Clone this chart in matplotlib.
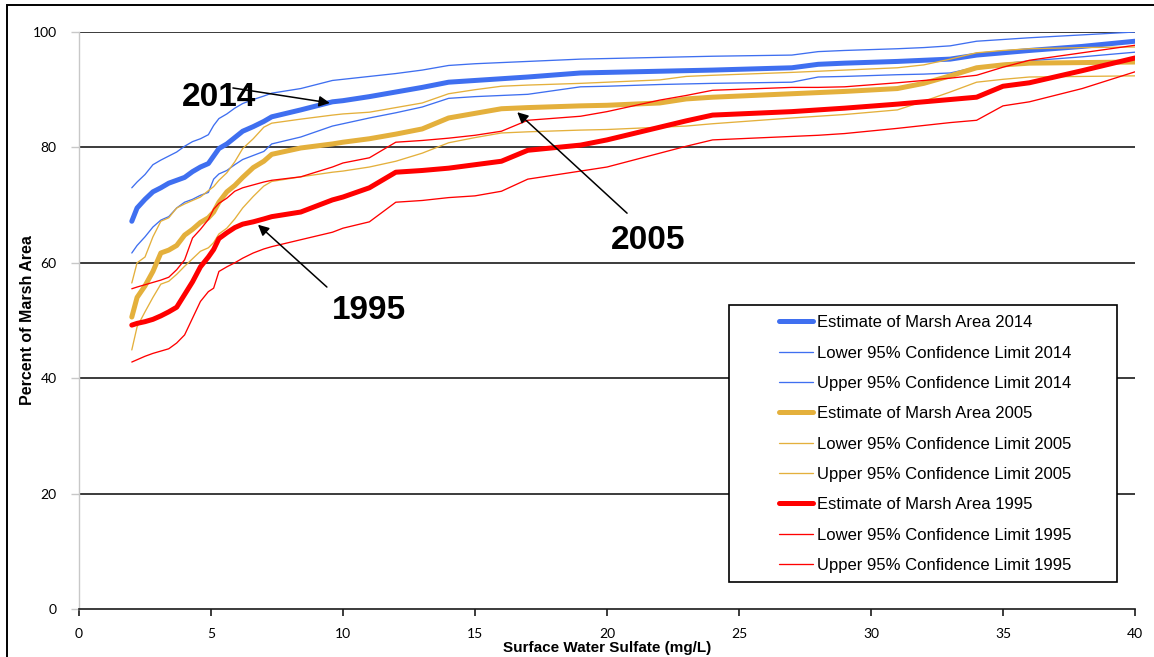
import matplotlib
matplotlib.use("Agg")
import matplotlib.pyplot as plt
from matplotlib.patches import Rectangle

# Surface water sulfate (mg/L) grid shared by all series
sulfate = [2, 2.2, 2.5, 2.8, 3.1, 3.4, 3.7, 4.0, 4.3, 4.6, 4.9, 5.1, 5.3, 5.6, 5.9,
           6.2, 6.6, 7.0, 7.3, 8.4, 9.6, 10, 11, 12, 13, 14, 15, 16, 17, 19, 20,
           22, 23, 24, 27, 28, 29, 31, 32, 33, 34, 35, 36, 38, 40]

est_2014 = [67.2, 69.5, 71.0, 72.3, 73.0, 73.8, 74.3, 74.8, 75.8, 76.6, 77.2, 78.5, 79.8, 80.6, 81.7,
            82.8, 83.6, 84.5, 85.3, 86.5, 87.9, 88.1, 88.8, 89.6, 90.4, 91.3, 91.6, 91.9, 92.2, 92.9, 93.0,
            93.2, 93.3, 93.4, 93.8, 94.4, 94.6, 94.9, 95.1, 95.3, 96.0, 96.4, 96.8, 97.5, 98.4]
lo_2014 = [61.7, 63.0, 64.5, 66.2, 67.4, 68.0, 69.5, 70.5, 71.0, 71.7, 72.2, 74.5, 75.4, 76.0, 77.0,
           77.9, 78.6, 79.3, 80.6, 81.8, 83.7, 84.1, 85.1, 86.0, 87.0, 88.5, 88.8, 89.0, 89.2, 90.5, 90.6,
           90.9, 91.0, 91.1, 91.3, 92.2, 92.3, 92.6, 92.7, 92.9, 93.9, 94.5, 95.0, 95.7, 96.5]
up_2014 = [73.0, 74.0, 75.3, 77.0, 77.8, 78.5, 79.2, 80.2, 81.0, 81.5, 82.2, 83.8, 85.0, 85.8, 86.8,
           87.6, 88.3, 88.9, 89.4, 90.2, 91.6, 91.8, 92.3, 92.8, 93.4, 94.2, 94.5, 94.7, 94.9, 95.3, 95.4,
           95.6, 95.7, 95.8, 96.0, 96.6, 96.8, 97.1, 97.3, 97.6, 98.4, 98.7, 99.0, 99.5, 100.0]

est_2005 = [50.6, 54.0, 56.0, 58.5, 61.7, 62.2, 63.0, 64.8, 65.8, 67.0, 67.8, 68.8, 70.5, 72.3, 73.4,
            74.8, 76.5, 77.6, 78.8, 79.9, 80.6, 80.9, 81.5, 82.3, 83.2, 85.1, 85.9, 86.7, 86.9, 87.2, 87.3,
            87.7, 88.4, 88.7, 89.3, 89.5, 89.7, 90.2, 91.1, 92.4, 93.8, 94.3, 94.6, 94.7, 94.8]
lo_2005 = [44.9, 48.9, 51.5, 54.0, 56.3, 56.8, 58.0, 59.4, 60.7, 62.0, 62.6, 63.5, 65.0, 66.0, 67.6,
           69.5, 71.5, 73.3, 74.1, 74.9, 75.7, 75.9, 76.6, 77.6, 79.0, 80.8, 81.7, 82.5, 82.7, 83.0, 83.1,
           83.5, 83.7, 84.1, 85.1, 85.4, 85.7, 86.5, 88.0, 89.6, 91.3, 91.8, 92.2, 92.3, 92.4]
up_2005 = [56.5, 60.0, 61.0, 64.5, 67.2, 67.8, 69.5, 70.2, 70.8, 71.4, 72.5, 73.2, 74.3, 75.6, 77.5,
           79.8, 81.5, 83.5, 84.2, 84.9, 85.6, 85.8, 86.1, 86.9, 87.7, 89.3, 90.0, 90.6, 90.8, 91.1, 91.3,
           91.7, 92.3, 92.5, 93.0, 93.2, 93.4, 93.8, 94.3, 95.3, 96.4, 96.8, 97.1, 97.3, 97.4]

est_1995 = [49.2, 49.5, 49.8, 50.2, 50.8, 51.5, 52.3, 54.5, 56.7, 59.3, 61.0, 62.3, 64.2, 65.2, 66.1,
            66.7, 67.1, 67.6, 68.0, 68.8, 70.9, 71.4, 73.0, 75.7, 76.0, 76.4, 77.0, 77.6, 79.5, 80.4, 81.3,
            83.5, 84.6, 85.6, 86.2, 86.5, 86.8, 87.5, 87.9, 88.3, 88.7, 90.6, 91.2, 93.3, 95.5]
lo_1995 = [42.8, 43.2, 43.8, 44.3, 44.7, 45.1, 46.1, 47.5, 50.4, 53.3, 55.0, 55.6, 58.5, 59.3, 60.0,
           60.8, 61.7, 62.4, 62.8, 64.0, 65.3, 66.0, 67.1, 70.5, 70.8, 71.3, 71.6, 72.4, 74.5, 75.9, 76.6,
           79.0, 80.2, 81.3, 81.9, 82.1, 82.4, 83.3, 83.8, 84.3, 84.7, 87.2, 87.9, 90.2, 93.1]
up_1995 = [55.5, 55.8, 56.2, 56.6, 57.0, 57.5, 58.8, 60.5, 64.3, 65.8, 67.5, 69.3, 70.3, 71.2, 72.4,
           73.0, 73.5, 74.0, 74.3, 74.9, 76.6, 77.3, 78.2, 80.9, 81.2, 81.6, 82.1, 82.8, 84.7, 85.4, 86.2,
           88.2, 89.0, 89.9, 90.4, 90.4, 90.5, 91.2, 91.6, 92.0, 92.5, 93.9, 95.1, 96.4, 97.7]

x_ticks = [0, 5, 10, 15, 20, 25, 30, 35, 40]
y_ticks = [0, 20, 40, 60, 80, 100]

BLUE = "#3F6FF0"
GOLD = "#E4B03C"
RED = "#FF0000"

W, H = 1154, 657
fig = plt.figure(figsize=(W / 100, H / 100), dpi=100)
ax = fig.add_axes([79 / W, 1 - 609 / H, (1135 - 79) / W, (609 - 32) / H])

thick, thin = 3.6, 0.95
series = [
    (est_2014, BLUE, thick, "Estimate of Marsh Area 2014"),
    (lo_2014, BLUE, thin, "Lower 95% Confidence Limit 2014"),
    (up_2014, BLUE, thin, "Upper 95% Confidence Limit 2014"),
    (est_2005, GOLD, thick, "Estimate of Marsh Area 2005"),
    (lo_2005, GOLD, thin, "Lower 95% Confidence Limit 2005"),
    (up_2005, GOLD, thin, "Upper 95% Confidence Limit 2005"),
    (est_1995, RED, thick, "Estimate of Marsh Area 1995"),
    (lo_1995, RED, thin, "Lower 95% Confidence Limit 1995"),
    (up_1995, RED, thin, "Upper 95% Confidence Limit 1995"),
]
for vals, col, lw, lab in series:
    ax.plot(sulfate, vals, color=col, lw=lw, label=lab, solid_capstyle="round",
            solid_joinstyle="round", zorder=3)

ax.set_xlim(0, 40)
ax.set_ylim(0, 100)
ax.set_xticks(x_ticks)
ax.set_yticks(y_ticks)
ax.set_xticklabels([str(v) for v in x_ticks], fontsize=10, family="Lato")
ax.set_yticklabels([str(v) for v in y_ticks], fontsize=10, family="Lato")
for yv in y_ticks[1:]:
    ax.axhline(yv, color="#1a1a1a", lw=1.2, zorder=1)

for s in ["top", "right"]:
    ax.spines[s].set_visible(False)
ax.spines["left"].set_color("#c8c8c8")
ax.spines["left"].set_linewidth(1.0)
ax.spines["bottom"].set_color("#1a1a1a")
ax.spines["bottom"].set_linewidth(1.2)
ax.tick_params(axis="y", color="#c8c8c8", length=6, width=1, pad=10)
ax.tick_params(axis="x", color="#1a1a1a", length=5, width=1.2, pad=9)

ax.set_ylabel("Percent of Marsh Area", fontsize=11.5, fontweight="bold",
              family="Liberation Sans")
ax.yaxis.set_label_coords((28 - 79) / (1135 - 79), 0.5)
ax.set_xlabel("Surface Water Sulfate (mg/L)", fontsize=11, fontweight="bold",
              family="Liberation Sans")
ax.xaxis.set_label_coords(0.5, -(648 - 609) / (609 - 32))
ax.xaxis.label.set_va("center")
ax.yaxis.label.set_va("center")

# Year annotations
lab_kw = dict(fontsize=24, fontweight="bold", family="Liberation Sans",
              ha="center", va="center", zorder=5)
arr_kw = dict(arrowstyle="-|>", color="black", lw=1.1, mutation_scale=16,
              shrinkA=0, shrinkB=0)
ax.text(5.3, 88.6, "2014", **lab_kw)
ax.annotate("", xy=(9.5, 87.7), xytext=(5.83, 90.3), arrowprops=arr_kw, zorder=5)
ax.text(21.55, 63.8, "2005", **lab_kw)
ax.annotate("", xy=(16.6, 86.1), xytext=(20.76, 68.6), arrowprops=arr_kw, zorder=5)
ax.text(10.98, 51.8, "1995", **lab_kw)
ax.annotate("", xy=(6.78, 66.6), xytext=(9.39, 55.8), arrowprops=arr_kw, zorder=5)

# Legend
leg = fig.legend(loc="upper left", bbox_to_anchor=(771 / W, 1 - 307 / H),
                 frameon=False, handlelength=2.0, handletextpad=0.25,
                 labelspacing=0.92, borderpad=0.0,
                 prop={"family": "Liberation Sans", "size": 12})
fig.add_artist(Rectangle((729 / W, 1 - 582 / H), (1117 - 729) / W, (582 - 305) / H,
                         transform=fig.transFigure, fill=True, facecolor="white",
                         edgecolor="black", lw=1.2, zorder=5))
leg.set_zorder(10)

# outer border of the figure
fig.add_artist(Rectangle((7 / W, -0.05), 1.2, 1 - 5 / H + 0.05,
                         transform=fig.transFigure, fill=False,
                         edgecolor="black", lw=1.4))

fig.savefig("out.png", dpi=100)
